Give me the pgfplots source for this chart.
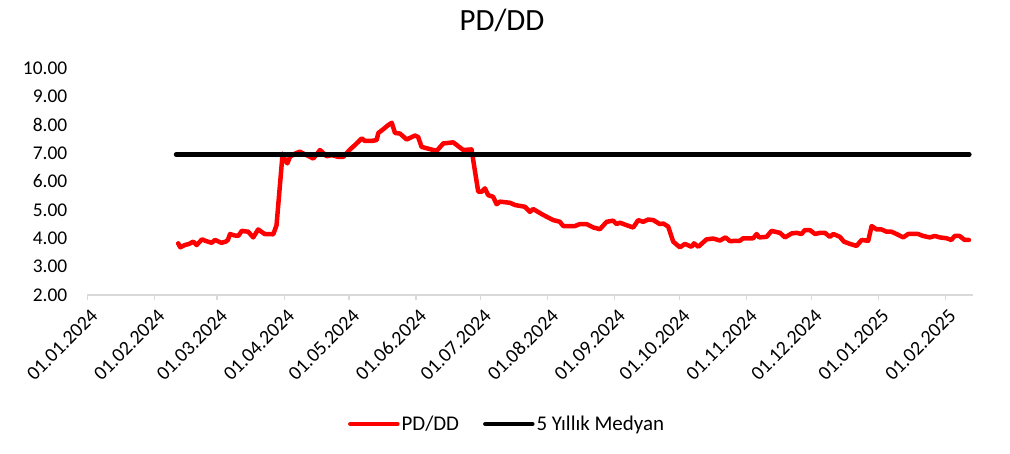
\documentclass[border=0pt]{standalone}
\usepackage{fontspec}
\setmainfont{Carlito}
\usepackage{pgfplots}
\pgfplotsset{compat=1.18}
\pgfplotstableread{
x y
42 3.82
43 3.68
45 3.76
47 3.80
49 3.88
50.5 3.76
53 3.96
55 3.90
57.5 3.84
59 3.94
62 3.84
64 3.88
65 3.94
66 4.15
68 4.10
69.8 4.08
71.4 4.26
74.4 4.23
76.7 4.03
79 4.31
82 4.15
86 4.14
87.5 4.46
90.3 6.98
91.5 6.75
92.5 6.64
93.7 6.87
96 6.98
98.3 7.05
101.4 6.93
104.5 6.81
106 6.95
107.6 7.11
110.7 6.89
113 6.93
116 6.87
118.4 6.87
121.5 7.13
124 7.30
126.9 7.52
128.4 7.43
131.5 7.43
133.8 7.46
134.6 7.71
137 7.85
139.2 7.99
140.8 8.07
142.3 7.71
144.6 7.69
147.7 7.48
151.5 7.62
153 7.57
154.6 7.22
157 7.17
161.6 7.08
164.6 7.34
169.2 7.38
173.9 7.11
177.7 7.13
180.8 5.64
182.4 5.64
183.9 5.76
185.4 5.52
187.7 5.46
189.3 5.20
190.8 5.29
195.5 5.25
197.8 5.17
202.4 5.11
204.7 4.93
206.2 5.03
210.9 4.82
215.5 4.64
218.6 4.58
220.1 4.43
225.5 4.43
227.8 4.50
230.9 4.50
234 4.38
237.1 4.32
240.2 4.58
243.2 4.62
244.8 4.50
246.3 4.55
249.4 4.46
252.5 4.38
254.8 4.64
257.1 4.58
259.4 4.66
261.8 4.64
264.8 4.50
266.4 4.52
268.7 4.41
271 3.88
274.1 3.68
276.4 3.80
279.5 3.70
280.6 3.82
282.6 3.70
286.4 3.96
289.5 3.99
292.6 3.92
295.2 4.03
297.2 3.90
301.8 3.91
303.4 4.00
308 4.00
309.6 4.15
310.8 4.03
314.2 4.05
316.5 4.26
320.4 4.19
322.7 4.03
325.8 4.17
328.1 4.19
330.4 4.15
331.9 4.29
334.2 4.29
336.6 4.15
338.9 4.19
341.2 4.19
343.5 4.05
345.1 4.15
348.1 4.05
350 3.88
352.8 3.80
355.8 3.73
358.2 3.94
361.2 3.91
362.8 4.43
365.1 4.31
367.4 4.31
369.7 4.23
372 4.23
374.3 4.15
377.4 4.03
379.7 4.15
384.3 4.15
386.6 4.08
389.7 4.03
392 4.08
394.3 4.03
397.4 4.00
399.7 3.94
401.2 4.08
403.5 4.08
405.8 3.94
407.8 3.94
}\pddd
\pgfplotstableread{
x y
41 6.95
408 6.95
}\median
\begin{document}
\begin{tikzpicture}
\useasboundingbox (0,0) rectangle (1010bp,454bp);
\node[anchor=base, font=\fontsize{31}{35}\selectfont, inner sep=0pt] at (502bp,423.5bp) {PD/DD};
\begin{axis}[
  at={(87.4bp,159bp)}, anchor=south west,
  scale only axis, width=885.4bp, height=227bp,
  xmin=0, xmax=409.6, ymin=2, ymax=10,
  axis x line*=bottom, axis y line*=left,
  y axis line style={draw=none},
  x axis line style={draw=black!15, line width=1.2bp},
  ytick={2,3,4,5,6,7,8,9,10},
  ytick style={draw=none},
  yticklabel style={inner sep=0pt, anchor=east, xshift=-20bp, font=\fontsize{19.5}{22}\selectfont},
  yticklabel={\pgfmathprintnumber[fixed, fixed zerofill, precision=2]{\tick}},
  xtick={0,31,60,91,121,152,182,213,244,274,305,335,366,397},
  xticklabels={01.01.2024,01.02.2024,01.03.2024,01.04.2024,01.05.2024,01.06.2024,01.07.2024,01.08.2024,01.09.2024,01.10.2024,01.11.2024,01.12.2024,01.01.2025,01.02.2025},
  xtick align=outside,
  major tick length=5bp,
  xtick style={draw=black!15, line width=1.2bp},
  xticklabel style={rotate=45, anchor=east, inner sep=0pt, xshift=-4bp, yshift=-14bp, font=\fontsize{20}{22}\selectfont},
  /pgf/number format/assume math mode=true,
  clip=false,
  legend style={at={(0.474,-0.568)}, anchor=center, draw=none, legend columns=2, font=\fontsize{21}{24}\selectfont,
    /tikz/every even column/.append style={column sep=22bp}, inner sep=0pt},
  legend image code/.code={\draw[#1, line width=4.5bp] (0bp,0bp) -- (47bp,0bp);},
]
\addplot[red, line width=4.5bp, line join=round, line cap=round] table[x=x,y=y] {\pddd};
\addlegendentry{PD/DD}
\addplot[black, line width=4.5bp, line cap=round] table[x=x,y=y] {\median};
\addlegendentry{5 Yıllık Medyan}
\end{axis}
\end{tikzpicture}
\end{document}
